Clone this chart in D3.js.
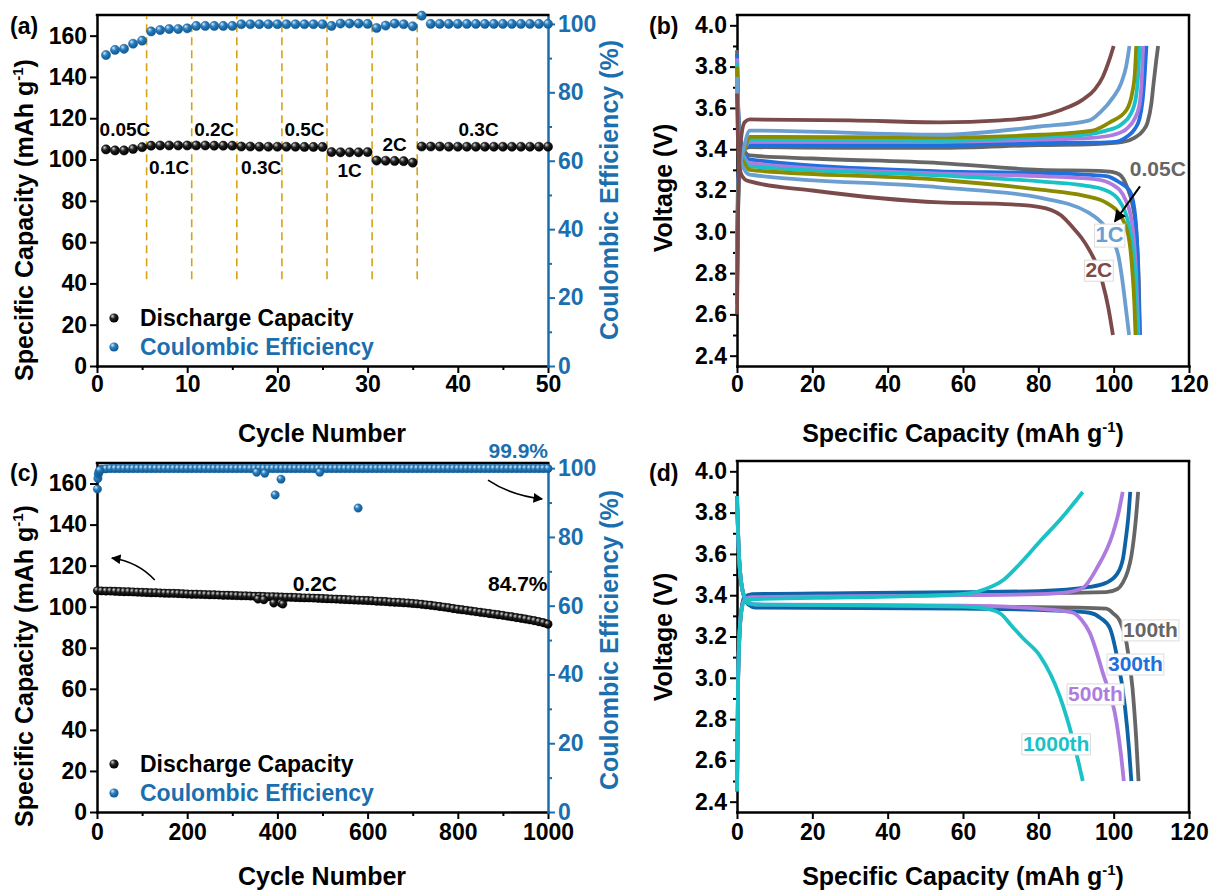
<!DOCTYPE html>
<html>
<head>
<meta charset="utf-8">
<script src="https://cdn.jsdelivr.net/npm/d3@7"></script>
<style>
  body { margin: 0; background: #fff; }
  svg text { font-family: "Liberation Sans", Arial, Helvetica, sans-serif; font-weight: bold; }
</style>
</head>
<body>
<svg id="fig" width="1210" height="890"></svg>
<script>
// ---------------- data ----------------
// (a) rate capability, cycles 1..50
const aRateLabels = ['0.05C', '0.1C', '0.2C', '0.3C', '0.5C', '1C', '2C', '0.3C'];
const aRateLabelPos = [[3.1, 111.4], [8.0, 93], [13.0, 111.4], [18.2, 93], [23.0, 111.4], [28.0, 91.5], [33.0, 104.1], [42.3, 111.4]];
const aRateBorders = [5.5, 10.5, 15.5, 20.5, 25.5, 30.5, 35.5];
const aDischarge = [
  104.9, 104.4, 104.4, 105.1, 106.0,
  106.7, 106.8, 106.8, 106.8, 106.8,
  106.8, 106.8, 106.7, 106.7, 106.7,
  106.3, 106.3, 106.2, 106.2, 106.2,
  106.2, 106.2, 106.1, 106.1, 106.1,
  103.6, 103.5, 103.5, 103.5, 103.6,
  99.5, 99.4, 99.3, 99.2, 98.5,
  106.3, 106.3, 106.3, 106.2, 106.2, 106.2, 106.2, 106.2, 106.2, 106.2, 106.2, 106.2, 106.2, 106.2, 106.2
];
const aCE = [
  90.9, 92.4, 92.7, 94.2, 95.1,
  97.8, 98.2, 98.5, 98.5, 98.7,
  99.4, 99.4, 99.4, 99.4, 99.4,
  99.9, 99.9, 99.9, 99.9, 99.9,
  99.9, 99.9, 99.9, 99.9, 99.9,
  99.4, 100.1, 100.1, 100.1, 100.0,
  98.8, 99.5, 100.1, 99.9, 99.3,
  102.4, 100.0, 100.0, 100.0, 100.0, 100.0, 100.0, 100.0, 100.0, 100.0, 100.0, 100.0, 100.0, 100.0, 100.0
];

// (b) charge / discharge profiles at different rates, [capacity, voltage]
const bRates = ['0.05C', '0.1C', '0.2C', '0.3C', '0.5C', '1C', '2C'];
const bCharge = [
  [[0,2.9],[0.3,3.25],[0.8,3.36],[2,3.40],[3.4,3.41],[30,3.407],[53.8,3.407],[80.4,3.42],[95,3.425],[102.4,3.435],[105.5,3.455],[107.8,3.49],[109,3.53],[110,3.62],[110.6,3.72],[111.3,3.83],[111.8,3.9]],
  [[0,2.85],[0.3,3.22],[0.8,3.35],[2,3.40],[3.4,3.42],[53.8,3.42],[80.4,3.43],[95,3.432],[100.8,3.437],[103.5,3.46],[105.5,3.495],[106.9,3.55],[107.7,3.64],[108.2,3.75],[108.7,3.9]],
  [[0,2.8],[0.3,3.2],[0.8,3.34],[2,3.40],[3.4,3.437],[53.8,3.437],[80.4,3.446],[94,3.455],[100,3.47],[103.5,3.5],[105.5,3.545],[106.8,3.61],[107.4,3.72],[107.8,3.9]],
  [[0,2.75],[0.3,3.18],[0.8,3.33],[2,3.40],[3.4,3.447],[53.8,3.44],[80.4,3.46],[92,3.47],[98,3.49],[102,3.52],[104.5,3.57],[105.9,3.65],[106.5,3.76],[106.9,3.9]],
  [[0,2.7],[0.3,3.15],[0.8,3.32],[2,3.40],[3.4,3.46],[53.8,3.457],[80.4,3.47],[94.4,3.49],[99,3.53],[103.4,3.59],[105,3.68],[105.6,3.76],[106,3.9]],
  [[0,2.65],[0.3,3.12],[0.8,3.3],[2,3.42],[3.4,3.49],[53.8,3.47],[80.4,3.51],[93.6,3.54],[96.5,3.58],[99.8,3.65],[102,3.72],[103.3,3.8],[104.2,3.9]],
  [[0,2.6],[0.3,3.1],[0.8,3.4],[2,3.53],[3.4,3.544],[30,3.54],[53.8,3.53],[70,3.54],[80.4,3.56],[86,3.59],[91.8,3.64],[95,3.69],[97.1,3.75],[98.8,3.83],[100,3.9]]
];
const bDischarge = [
  [[0,3.88],[0.3,3.62],[0.9,3.45],[2,3.39],[3.4,3.37],[20,3.355],[53.8,3.333],[80.4,3.30],[96,3.295],[99.5,3.29],[101.6,3.277],[103.5,3.22],[105,3.13],[106,3.0],[106.6,2.8],[107,2.5]],
  [[0,3.86],[0.3,3.6],[0.9,3.44],[2,3.375],[3.4,3.35],[53.8,3.293],[80.4,3.285],[98,3.27],[101.5,3.24],[104.2,3.2],[105.5,3.11],[106.2,2.95],[106.6,2.75],[106.9,2.5]],
  [[0,3.84],[0.3,3.58],[0.9,3.42],[2,3.36],[3.4,3.333],[53.8,3.282],[80.4,3.27],[95,3.255],[100,3.225],[103,3.16],[104.8,3.05],[105.8,2.85],[106.3,2.65],[106.6,2.5]],
  [[0,3.82],[0.3,3.56],[0.9,3.4],[2,3.345],[3.4,3.317],[53.8,3.273],[80.4,3.244],[92,3.225],[98,3.2],[101.5,3.15],[103.8,3.05],[105.2,2.9],[106,2.7],[106.3,2.5]],
  [[0,3.8],[0.3,3.54],[0.9,3.38],[2,3.33],[3.4,3.30],[53.8,3.252],[80.4,3.204],[92,3.175],[98.1,3.14],[102.4,3.06],[104.2,2.95],[105,2.8],[105.5,2.65],[105.8,2.5]],
  [[0,3.75],[0.3,3.5],[0.9,3.35],[2,3.3],[3.4,3.277],[53.8,3.215],[80.4,3.165],[93.6,3.09],[97,3.04],[99.8,2.96],[101.3,2.88],[102.2,2.78],[103.3,2.62],[104.1,2.5]],
  [[0,3.67],[0.3,3.42],[0.9,3.29],[2,3.255],[3.4,3.244],[20,3.2],[53.8,3.142],[70,3.135],[80.4,3.12],[86,3.08],[89.2,3.02],[91.5,2.97],[93.6,2.91],[95.5,2.84],[97.1,2.75],[98.5,2.64],[99.8,2.5]]
];

// (c) long cycling at 0.2C, one value every 10 cycles (first value = cycle 1)
const cStep = 10;
const cCapacity = [
  107.8,
  107.7, 107.6, 107.6, 107.5, 107.4, 107.3, 107.3, 107.2, 107.1, 107.0,
  106.9, 106.8, 106.8, 106.7, 106.6, 106.5, 106.5, 106.4, 106.3, 106.2,
  106.1, 106.1, 106.0, 105.9, 105.8, 105.8, 105.7, 105.6, 105.6, 105.5,
  105.4, 105.3, 105.3, 105.2, 105.1, 105.1, 105.0, 104.9, 104.9, 104.8,
  104.7, 104.6, 104.6, 104.5, 104.4, 104.3, 104.3, 104.2, 104.1, 104.0,
  103.9, 103.8, 103.7, 103.6, 103.5, 103.4, 103.3, 103.2, 103.1, 103.0,
  102.9, 102.7, 102.6, 102.5, 102.3, 102.2, 102.1, 101.9, 101.8, 101.6,
  101.4, 101.2, 100.9, 100.7, 100.4, 100.1, 99.8, 99.5, 99.1, 98.8,
  98.5, 98.2, 97.9, 97.6, 97.3, 97.0, 96.7, 96.4, 96.1, 95.8,
  95.4, 95.1, 94.7, 94.4, 94.0, 93.6, 93.2, 92.7, 92.2, 91.5
];
const cCE = [
  93.9,
  99.7, 99.8, 99.9, 99.9, 99.9, 99.9, 99.9, 99.9, 99.9, 99.9,
  99.9, 99.9, 99.9, 99.9, 99.9, 99.9, 99.9, 99.9, 99.9, 99.9,
  99.9, 99.9, 99.9, 99.9, 99.9, 99.9, 99.9, 99.9, 99.9, 99.9,
  99.9, 99.9, 99.9, 99.9, 99.9, 99.9, 99.9, 99.9, 99.9, 99.9,
  99.9, 99.9, 99.9, 99.9, 99.9, 99.9, 99.9, 99.9, 99.9, 99.9,
  99.9, 99.9, 99.9, 99.9, 99.9, 99.9, 99.9, 99.9, 99.9, 99.9,
  99.9, 99.9, 99.9, 99.9, 99.9, 99.9, 99.9, 99.9, 99.9, 99.9,
  99.9, 99.9, 99.9, 99.9, 99.9, 99.9, 99.9, 99.9, 99.9, 99.9,
  99.9, 99.9, 99.9, 99.9, 99.9, 99.9, 99.9, 99.9, 99.9, 99.9,
  99.9, 99.9, 99.9, 99.9, 99.9, 99.9, 99.9, 99.9, 99.9, 99.9
];
const cCEEarly = [[2, 97.0], [3, 98.2], [4, 98.9], [6, 99.4]];
const cCEOutliers = [[354, 98.8], [372, 98.5], [395, 92.2], [408, 96.8], [494, 98.8], [579, 88.4]];
const cCapOutliers = [[357, 103.7], [370, 103.4], [392, 101.8], [408, 101.8], [412, 101.3]];

// (d) profiles after long cycling, [capacity, voltage]
const dCycles = ['100th', '300th', '500th', '1000th'];
const dCharge = [
  [[0,2.45],[0.3,3.0],[1,3.3],[2,3.39],[4,3.40],[30,3.405],[60,3.41],[80,3.41],[98,3.415],[101,3.43],[102.4,3.46],[103.8,3.52],[104.7,3.59],[105.8,3.75],[106.5,3.9]],
  [[0,2.45],[0.3,3.0],[1,3.3],[2,3.39],[4,3.405],[30,3.41],[60,3.415],[80,3.42],[93.6,3.44],[98,3.46],[100.8,3.5],[102.5,3.58],[103.2,3.67],[103.9,3.78],[104.4,3.9]],
  [[0,2.45],[0.3,3.0],[1,3.3],[2,3.38],[4,3.39],[30,3.395],[60,3.4],[80,3.405],[88,3.415],[91.8,3.435],[95.5,3.53],[99.8,3.70],[101.3,3.8],[102.4,3.9]],
  [[0,2.45],[0.3,3.0],[1,3.3],[2,3.37],[4,3.38],[30,3.39],[55,3.40],[62,3.41],[66,3.43],[70.8,3.475],[75,3.55],[80.4,3.66],[86,3.77],[91.8,3.9]]
];
const dDischarge = [
  [[0,3.88],[0.5,3.6],[1.5,3.42],[3,3.36],[5,3.345],[60,3.345],[90,3.34],[98,3.335],[100,3.31],[101.6,3.277],[103.4,3.17],[105,2.95],[106,2.7],[106.6,2.5]],
  [[0,3.88],[0.5,3.6],[1.5,3.42],[3,3.355],[5,3.34],[60,3.335],[85,3.325],[93.6,3.315],[96.5,3.29],[99,3.24],[100.8,3.11],[103,2.86],[104.1,2.65],[104.7,2.5]],
  [[0,3.86],[0.5,3.6],[1.5,3.42],[3,3.365],[5,3.355],[60,3.35],[80,3.335],[86,3.325],[89.2,3.315],[91.5,3.28],[93.6,3.22],[97.1,3.025],[100.8,2.78],[102,2.62],[102.7,2.5]],
  [[0,3.88],[0.5,3.6],[1.5,3.42],[3,3.36],[5,3.355],[40,3.35],[60,3.345],[66,3.335],[70,3.31],[73,3.25],[76,3.19],[80.4,3.107],[85.7,2.91],[89.2,2.70],[91.8,2.5]]
];

// ---------------- styles ----------------
const BLUE = '#1B6FAE';
const TICK_FS = 23;
const bColors = ['#666666', '#1F6FDC', '#AE7CDF', '#1AC2C6', '#8B8B00', '#6B9FD2', '#7B4B4B'];
const dColors = ['#666666', '#0D63A5', '#AE7CDF', '#1AC2C6'];
const dLabelColors = ['#666666', '#1F6FDC', '#AE7CDF', '#1AC2C6'];

const svg = d3.select('#fig');
const defs = svg.append('defs');

// shaded ball markers
function ballGradient(id, hi, base, dark) {
  const g = defs.append('radialGradient').attr('id', id)
    .attr('cx', '40%').attr('cy', '38%').attr('r', '60%').attr('fx', '32%').attr('fy', '28%');
  g.append('stop').attr('offset', '0%').attr('stop-color', hi);
  g.append('stop').attr('offset', '45%').attr('stop-color', base);
  g.append('stop').attr('offset', '100%').attr('stop-color', dark);
}
ballGradient('ballBlack', '#d8d8d8', '#222', '#000');
ballGradient('ballBlue', '#d4ebfa', '#2a7dbd', '#0e5a94');

defs.append('marker').attr('id', 'arrow')
  .attr('viewBox', '0 0 10 10').attr('refX', 9).attr('refY', 5)
  .attr('markerWidth', 6).attr('markerHeight', 6).attr('orient', 'auto')
  .append('path').attr('d', 'M0,0L10,5L0,10z').attr('fill', '#000');

// ---------------- helpers ----------------
function styleAxis(g, color) {
  g.attr('font-size', TICK_FS).attr('font-family', null);
  g.select('.domain').attr('stroke', color).attr('stroke-width', 2.5).attr('stroke-linecap', 'square');
  g.selectAll('.tick line').attr('stroke', color).attr('stroke-width', 2);
  g.selectAll('.tick text').attr('fill', color);
}

function minorAxis(axisFn, scale, values, transform, color) {
  const g = svg.append('g').attr('transform', transform)
    .call(axisFn(scale).tickValues(values).tickFormat('').tickSize(4).tickSizeOuter(0));
  g.select('.domain').remove();
  g.selectAll('.tick line').attr('stroke', color).attr('stroke-width', 2);
}

function title(x, y, rotate, color, main, sup, tail) {
  const t = svg.append('text')
    .attr('transform', `translate(${x},${y}) rotate(${rotate})`)
    .attr('text-anchor', 'middle')
    .attr('font-size', 25)
    .attr('fill', color)
    .text(main);
  if (sup) {
    t.append('tspan').attr('dy', -10).attr('font-size', 15).text(sup);
    t.append('tspan').attr('dy', 10).text(tail);
  }
}

function panelLabel(x, y, s) {
  svg.append('text').attr('x', x).attr('y', y).attr('font-size', 23).text(s);
}

function topLine(x0, x1, y) {
  svg.append('line').attr('x1', x0).attr('x2', x1).attr('y1', y).attr('y2', y)
    .attr('stroke', '#000').attr('stroke-width', 2.5).attr('stroke-linecap', 'square');
}

function boxedLabel(x, y, s, color, size) {
  const t = svg.append('text').attr('x', x).attr('y', y)
    .attr('font-size', size).attr('fill', color).text(s);
  const bb = t.node().getBBox();
  svg.insert('rect', () => t.node())
    .attr('x', bb.x - 1).attr('y', bb.y + 2).attr('width', bb.width + 2).attr('height', bb.height - 2)
    .attr('fill', '#fff').attr('stroke', '#dcdcdc').attr('stroke-width', 1);
}

function legend(x, y) {
  svg.append('circle').attr('cx', x).attr('cy', y).attr('r', 4.6).attr('fill', 'url(#ballBlack)');
  svg.append('text').attr('x', x + 26).attr('y', y + 8).attr('font-size', 23).text('Discharge Capacity');
  svg.append('circle').attr('cx', x).attr('cy', y + 29).attr('r', 4.6).attr('fill', 'url(#ballBlue)');
  svg.append('text').attr('x', x + 26).attr('y', y + 37).attr('font-size', 23).attr('fill', BLUE).text('Coulombic Efficiency');
}

// ================= (a) =================
const ax = d3.scaleLinear().domain([0, 50]).range([97, 548]);
const ay = d3.scaleLinear().domain([0, 170]).range([366, 15]);
const ay2 = d3.scaleLinear().domain([0, 102.6]).range([366, 15]);

svg.append('g').attr('transform', 'translate(0,366)')
  .call(d3.axisBottom(ax).tickValues(d3.range(0, 51, 10)).tickSize(7).tickPadding(3).tickSizeOuter(0))
  .call(g => styleAxis(g, '#000'));
minorAxis(d3.axisBottom, ax, d3.range(5, 50, 10), 'translate(0,366)', '#000');
svg.append('g').attr('transform', 'translate(97,0)')
  .call(d3.axisLeft(ay).tickValues(d3.range(0, 161, 20)).tickSize(7).tickPadding(3).tickSizeOuter(0))
  .call(g => styleAxis(g, '#000'));
svg.append('g').attr('transform', 'translate(548,0)')
  .call(d3.axisRight(ay2).tickValues(d3.range(0, 101, 20)).tickSize(7).tickPadding(3).tickSizeOuter(0))
  .call(g => styleAxis(g, BLUE));
minorAxis(d3.axisRight, ay2, d3.range(10, 100, 20), 'translate(548,0)', BLUE);
topLine(97, 548, 15);

// rate borders
svg.append('g').selectAll('line').data(aRateBorders).join('line')
  .attr('x1', d => ax(d)).attr('x2', d => ax(d))
  .attr('y1', ay(42)).attr('y2', 16)
  .attr('stroke', '#D6A317').attr('stroke-width', 1.6).attr('stroke-dasharray', '8,5');

svg.append('g').selectAll('circle').data(aCE).join('circle')
  .attr('cx', (d, i) => ax(i + 1)).attr('cy', d => ay2(d)).attr('r', 4.6)
  .attr('fill', 'url(#ballBlue)').attr('stroke', '#155d96').attr('stroke-width', 0.5);
svg.append('g').selectAll('circle').data(aDischarge).join('circle')
  .attr('cx', (d, i) => ax(i + 1)).attr('cy', d => ay(d)).attr('r', 4.6)
  .attr('fill', 'url(#ballBlack)').attr('stroke', '#000').attr('stroke-width', 0.5);

svg.append('g').selectAll('text').data(aRateLabels).join('text')
  .attr('x', (d, i) => ax(aRateLabelPos[i][0])).attr('y', (d, i) => ay(aRateLabelPos[i][1]))
  .attr('text-anchor', 'middle').attr('font-size', 19).text(d => d);

legend(114, 318);

panelLabel(10, 34, '(a)');
title(33, 220, -90, '#000', 'Specific Capacity (mAh g', '-1', ')');
title(618, 190, -90, BLUE, 'Coulombic Efficiency (%)');
title(322, 442, 0, '#000', 'Cycle Number');

// ================= (b) =================
const bx = d3.scaleLinear().domain([0, 120]).range([737, 1189]);
const by = d3.scaleLinear().domain([2.35, 4.05]).range([366, 15]);

svg.append('g').attr('transform', 'translate(0,366)')
  .call(d3.axisBottom(bx).tickValues(d3.range(0, 121, 20)).tickSize(7).tickPadding(3).tickSizeOuter(0))
  .call(g => styleAxis(g, '#000'));
svg.append('g').attr('transform', 'translate(737,0)')
  .call(d3.axisLeft(by).tickValues(d3.range(2.4, 4.01, 0.2)).tickFormat(d3.format('.1f')).tickSize(7).tickPadding(3).tickSizeOuter(0))
  .call(g => styleAxis(g, '#000'));
minorAxis(d3.axisLeft, by, d3.range(2.5, 4.0, 0.2), 'translate(737,0)', '#000');
topLine(737, 1189, 15);
svg.append('line').attr('x1', 1189).attr('x2', 1189).attr('y1', 15).attr('y2', 366)
  .attr('stroke', '#000').attr('stroke-width', 2.5);

const bLine = d3.line().x(d => bx(d[0])).y(d => by(d[1])).curve(d3.curveMonotoneX);
bRates.forEach((r, i) => {
  svg.append('path').datum(bCharge[i]).attr('d', bLine)
    .attr('fill', 'none').attr('stroke', bColors[i]).attr('stroke-width', 3.8).attr('stroke-linejoin', 'round');
  svg.append('path').datum(bDischarge[i]).attr('d', bLine)
    .attr('fill', 'none').attr('stroke', bColors[i]).attr('stroke-width', 3.8).attr('stroke-linejoin', 'round');
});

svg.append('text').attr('x', bx(104.3)).attr('y', by(3.27)).attr('font-size', 21).attr('fill', '#666').text('0.05C');
svg.append('line')
  .attr('x1', bx(107)).attr('y1', by(3.22)).attr('x2', bx(100.3)).attr('y2', by(3.05))
  .attr('stroke', '#000').attr('stroke-width', 2).attr('marker-end', 'url(#arrow)');
boxedLabel(bx(95.2), by(2.95), '1C', '#6B9FD2', 22);
boxedLabel(bx(92.5), by(2.78), '2C', '#7B4B4B', 21);

panelLabel(649, 34, '(b)');
title(672, 188, -90, '#000', 'Voltage (V)');
title(963, 442, 0, '#000', 'Specific Capacity (mAh g', '-1', ')');

// ================= (c) =================
const cx = d3.scaleLinear().domain([0, 1000]).range([97, 548]);
const cy = d3.scaleLinear().domain([0, 170]).range([812, 463]);
const cy2 = d3.scaleLinear().domain([0, 101.5]).range([812, 463]);
const cCycleOf = i => (i === 0 ? 1 : i * cStep);

svg.append('g').attr('transform', 'translate(0,812)')
  .call(d3.axisBottom(cx).tickValues(d3.range(0, 1001, 200)).tickFormat(d3.format('d')).tickSize(7).tickPadding(5).tickSizeOuter(0))
  .call(g => styleAxis(g, '#000'));
minorAxis(d3.axisBottom, cx, d3.range(100, 1000, 200), 'translate(0,812)', '#000');
svg.append('g').attr('transform', 'translate(97,0)')
  .call(d3.axisLeft(cy).tickValues(d3.range(0, 161, 20)).tickSize(7).tickPadding(3).tickSizeOuter(0))
  .call(g => styleAxis(g, '#000'));
svg.append('g').attr('transform', 'translate(548,0)')
  .call(d3.axisRight(cy2).tickValues(d3.range(0, 101, 20)).tickSize(7).tickPadding(3).tickSizeOuter(0))
  .call(g => styleAxis(g, BLUE));
minorAxis(d3.axisRight, cy2, d3.range(10, 100, 20), 'translate(548,0)', BLUE);
topLine(97, 548, 463);

const ceBall = sel => sel.attr('r', 4.2).attr('fill', 'url(#ballBlue)').attr('stroke', '#155d96').attr('stroke-width', 0.4);
const capBall = sel => sel.attr('r', 4.2).attr('fill', 'url(#ballBlack)').attr('stroke', '#000').attr('stroke-width', 0.4);

// dense markers: a thick band under the balls so the 1000 cycles read as one trace
const cCapLine = d3.line().x((d, i) => cx(cCycleOf(i))).y(d => cy(d));
svg.append('path').datum(cCE.slice(1)).attr('d', d3.line().x((d, i) => cx(cCycleOf(i + 1))).y(d => cy2(d)))
  .attr('fill', 'none').attr('stroke', '#1d6fae').attr('stroke-width', 8).attr('stroke-linecap', 'round');
svg.append('path').datum(cCapacity).attr('d', cCapLine)
  .attr('fill', 'none').attr('stroke', '#0a0a0a').attr('stroke-width', 8).attr('stroke-linecap', 'round');

svg.append('g').selectAll('circle').data(cCE).join('circle')
  .attr('cx', (d, i) => cx(cCycleOf(i))).attr('cy', d => cy2(d)).call(ceBall);
svg.append('g').selectAll('circle').data(cCEEarly.concat(cCEOutliers)).join('circle')
  .attr('cx', d => cx(d[0])).attr('cy', d => cy2(d[1])).call(ceBall);
svg.append('g').selectAll('circle').data(cCapacity).join('circle')
  .attr('cx', (d, i) => cx(cCycleOf(i))).attr('cy', d => cy(d)).call(capBall);
svg.append('g').selectAll('circle').data(cCapOutliers).join('circle')
  .attr('cx', d => cx(d[0])).attr('cy', d => cy(d[1])).call(capBall);

// annotations (c)
const cArrowLeft = [[128, 113], [91, 121.8], [33, 123.7]];
const cArrowRight = [[867, 161.7], [916, 154.4], [987, 152.5]];
[cArrowLeft, cArrowRight].forEach(p => {
  svg.append('path')
    .attr('d', `M${cx(p[0][0])},${cy(p[0][1])} Q${cx(p[1][0])},${cy(p[1][1])} ${cx(p[2][0])},${cy(p[2][1])}`)
    .attr('fill', 'none').attr('stroke', '#000').attr('stroke-width', 1.6).attr('marker-end', 'url(#arrow)');
});
svg.append('text').attr('x', cx(483)).attr('y', cy(107.6)).attr('text-anchor', 'middle').attr('font-size', 21).text('0.2C');
svg.append('text').attr('x', cx(999)).attr('y', cy(107.6)).attr('text-anchor', 'end').attr('font-size', 21).text('84.7%');
svg.append('text').attr('x', 548).attr('y', 458).attr('text-anchor', 'end').attr('font-size', 21).attr('fill', BLUE).text('99.9%');

legend(114, 764);

panelLabel(10, 481, '(c)');
title(33, 666, -90, '#000', 'Specific Capacity (mAh g', '-1', ')');
title(618, 640, -90, BLUE, 'Coulombic Efficiency (%)');
title(322, 885, 0, '#000', 'Cycle Number');

// ================= (d) =================
const dx = d3.scaleLinear().domain([0, 120]).range([737, 1189]);
const dy = d3.scaleLinear().domain([2.35, 4.05]).range([812, 461]);

svg.append('g').attr('transform', 'translate(0,812)')
  .call(d3.axisBottom(dx).tickValues(d3.range(0, 121, 20)).tickSize(7).tickPadding(5).tickSizeOuter(0))
  .call(g => styleAxis(g, '#000'));
svg.append('g').attr('transform', 'translate(737,0)')
  .call(d3.axisLeft(dy).tickValues(d3.range(2.4, 4.01, 0.2)).tickFormat(d3.format('.1f')).tickSize(7).tickPadding(3).tickSizeOuter(0))
  .call(g => styleAxis(g, '#000'));
minorAxis(d3.axisLeft, dy, d3.range(2.5, 4.0, 0.2), 'translate(737,0)', '#000');
topLine(737, 1189, 461);
svg.append('line').attr('x1', 1189).attr('x2', 1189).attr('y1', 461).attr('y2', 812)
  .attr('stroke', '#000').attr('stroke-width', 2.5);

const dLine = d3.line().x(d => dx(d[0])).y(d => dy(d[1])).curve(d3.curveMonotoneX);
dCycles.forEach((c, i) => {
  svg.append('path').datum(dCharge[i]).attr('d', dLine)
    .attr('fill', 'none').attr('stroke', dColors[i]).attr('stroke-width', 3.8).attr('stroke-linejoin', 'round');
  svg.append('path').datum(dDischarge[i]).attr('d', dLine)
    .attr('fill', 'none').attr('stroke', dColors[i]).attr('stroke-width', 3.8).attr('stroke-linejoin', 'round');
});

const dLabelPos = [[102.5, 3.198], [98.5, 3.033], [87.9, 2.888], [75.9, 2.646]];
dCycles.forEach((c, i) => boxedLabel(dx(dLabelPos[i][0]), dy(dLabelPos[i][1]), c, dLabelColors[i], 21));

panelLabel(649, 481, '(d)');
title(672, 637, -90, '#000', 'Voltage (V)');
title(963, 885, 0, '#000', 'Specific Capacity (mAh g', '-1', ')');
</script>
</body>
</html>
